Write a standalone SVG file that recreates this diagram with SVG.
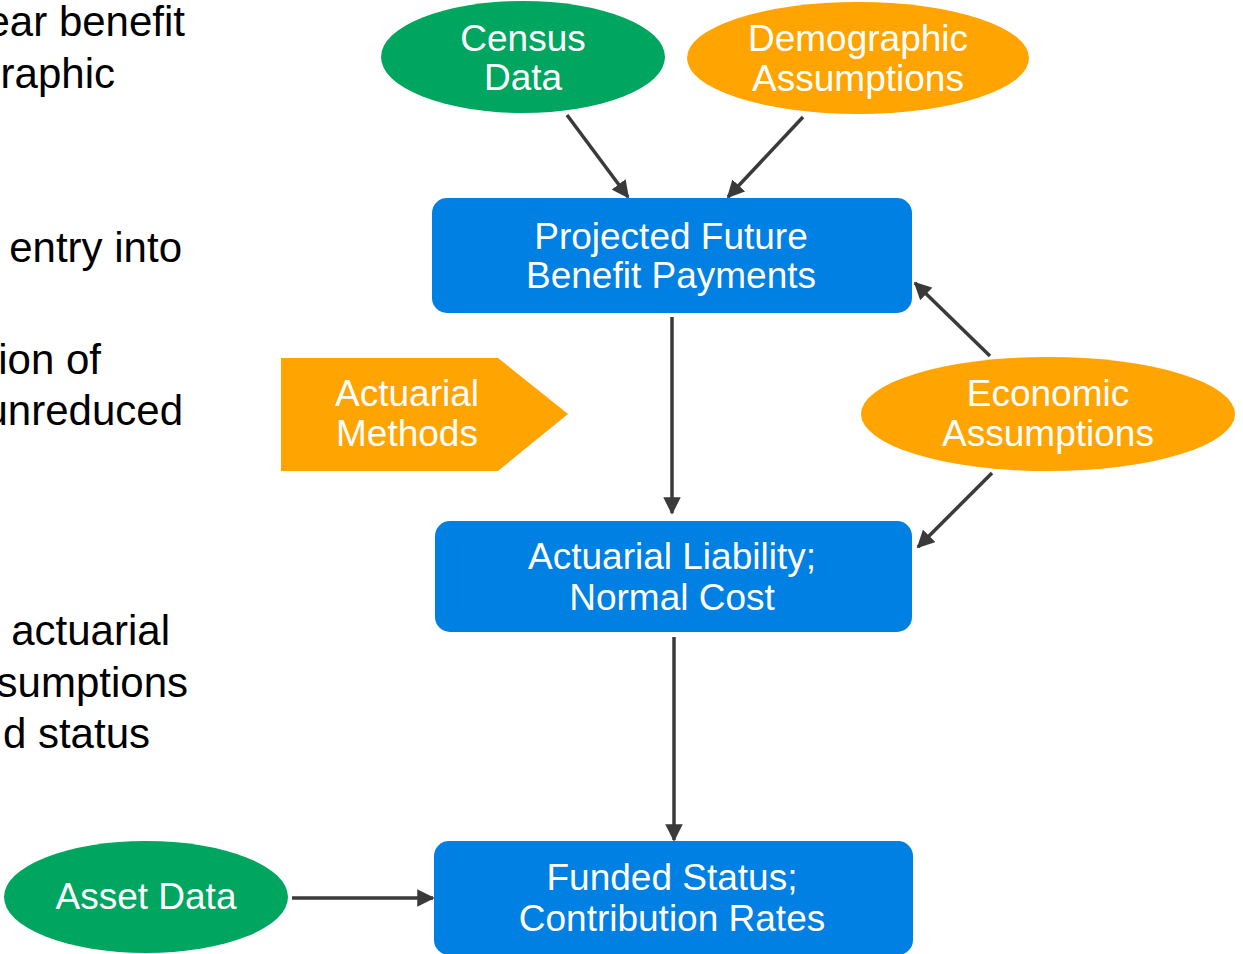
<svg xmlns="http://www.w3.org/2000/svg" width="1243" height="954" viewBox="0 0 1243 954">
<style>
.side{font-family:"Liberation Sans",Arial,sans-serif;font-size:42px;fill:#000;text-anchor:end}
.lbl{font-family:"Liberation Sans",Arial,sans-serif;font-size:37px;fill:#fff;text-anchor:middle}
.green{fill:#00A65F}
.orange{fill:#FFA400}
.blue{fill:#0080E2}
.conn{stroke:#3a3a3a;stroke-width:3.5;fill:none;marker-end:url(#ah)}
</style>
<defs>
<marker id="ah" viewBox="0 0 10 10" refX="9" refY="5" markerWidth="5" markerHeight="5" orient="auto" markerUnits="strokeWidth">
<path d="M0,0 L10,5 L0,10 z" fill="#3a3a3a"/>
</marker>
</defs>
<rect width="1243" height="954" fill="#fff"/>
<g id="sidetext">
<text class="side" x="185" y="36">ear benefit</text>
<text class="side" x="115" y="88">raphic</text>
<text class="side" x="182" y="262">entry into</text>
<text class="side" x="101" y="374">ion of</text>
<text class="side" x="183" y="425">unreduced</text>
<text class="side" x="170" y="645">actuarial</text>
<text class="side" x="188" y="697">sumptions</text>
<text class="side" x="150" y="748">d status</text>
</g>
<g id="census">
<ellipse class="green" cx="523" cy="57" rx="142" ry="56"/>
<text class="lbl" x="523" y="51">Census</text>
<text class="lbl" x="523" y="90">Data</text>
</g>
<g id="demographic">
<ellipse class="orange" cx="858" cy="58" rx="171" ry="56"/>
<text class="lbl" x="858" y="51">Demographic</text>
<text class="lbl" x="858" y="91">Assumptions</text>
</g>
<g id="projected">
<rect class="blue" x="432" y="198" width="480" height="115" rx="15"/>
<text class="lbl" x="671" y="249">Projected Future</text>
<text class="lbl" x="671" y="288">Benefit Payments</text>
</g>
<g id="methods">
<polygon class="orange" points="281,358 498,358 568,414 498,471 281,471"/>
<text class="lbl" x="407" y="406">Actuarial</text>
<text class="lbl" x="407" y="446">Methods</text>
</g>
<g id="economic">
<ellipse class="orange" cx="1048" cy="414" rx="187" ry="57"/>
<text class="lbl" x="1048" y="406">Economic</text>
<text class="lbl" x="1048" y="446">Assumptions</text>
</g>
<g id="liability">
<rect class="blue" x="435" y="521" width="477" height="111" rx="15"/>
<text class="lbl" x="672" y="569">Actuarial Liability;</text>
<text class="lbl" x="672" y="610">Normal Cost</text>
</g>
<g id="funded">
<rect class="blue" x="434" y="841" width="479" height="114" rx="15"/>
<text class="lbl" x="672" y="890">Funded Status;</text>
<text class="lbl" x="672" y="931">Contribution Rates</text>
</g>
<g id="asset">
<ellipse class="green" cx="146" cy="897" rx="142" ry="56"/>
<text class="lbl" x="146" y="909">Asset Data</text>
</g>
<g id="connectors">
<line class="conn" x1="567" y1="115" x2="628" y2="197"/>
<line class="conn" x1="803" y1="117" x2="728" y2="197"/>
<line class="conn" x1="672" y1="317" x2="672" y2="513"/>
<line class="conn" x1="990" y1="356" x2="915" y2="283"/>
<line class="conn" x1="992" y1="473" x2="918" y2="547"/>
<line class="conn" x1="674" y1="637" x2="674" y2="840"/>
<line class="conn" x1="292" y1="898" x2="433" y2="898"/>
</g>
</svg>
